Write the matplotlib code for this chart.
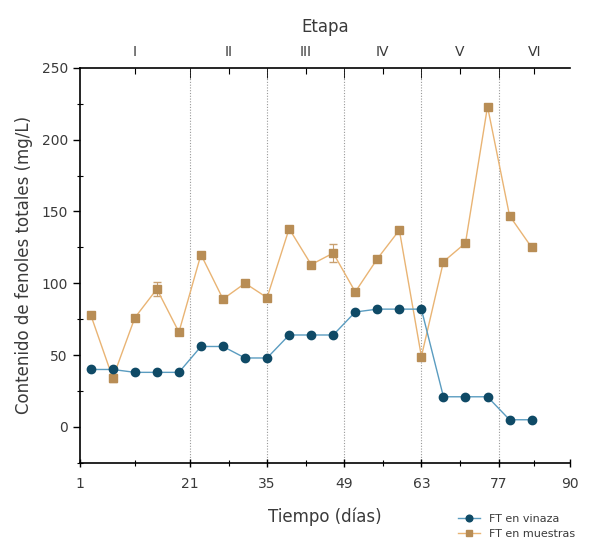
import numpy as np
import matplotlib
matplotlib.use("Agg")
import matplotlib.pyplot as plt

# data
dias = [3, 7, 11, 15, 19, 23, 27, 31, 35, 39, 43, 47, 51, 55, 59, 63, 67, 71, 75, 79, 83]
ft_vinaza = [40, 40, 38, 38, 38, 56, 56, 48, 48, 64, 64, 64, 80, 82, 82, 82, 21, 21, 21, 5, 5]
ft_muestras = [78, 34, 76, 96, 66, 120, 89, 100, 90, 138, 113, 121, 94, 117, 137, 49, 115, 128, 223, 147, 125]
err_muestras = [0, 3, 0, 5, 0, 0, 0, 0, 0, 0, 0, 6, 0, 0, 0, 0, 0, 0, 0, 0, 0]

limites = [21, 35, 49, 63, 77]
etapas = ["I", "II", "III", "IV", "V", "VI"]
centros = [11, 28, 42, 56, 70, 83.5]
xticks = [1, 21, 35, 49, 63, 77, 90]

txt = "#3a3a3a"
fig = plt.figure(figsize=(6.04, 5.42), dpi=100)
ax = fig.add_axes([0.132, 0.146, 0.812, 0.729])

for b in limites:
    ax.axvline(b, color="#999999", lw=0.8, ls=(0, (1, 1.5)), zorder=1)

ax.plot(dias, ft_vinaza, "-o", color="#5a9cc0", lw=1.0, ms=6,
        mfc="#0f4a66", mec="#0f4a66", label="FT en vinaza", zorder=4)
ax.errorbar(dias, ft_muestras, yerr=err_muestras, fmt="none", ecolor="#c9a070",
            elinewidth=0.8, capsize=3, zorder=2)
ax.plot(dias, ft_muestras, "-s", color="#e9b474", lw=1.0, ms=5.5,
        mfc="#b88d55", mec="#b88d55", label="FT en muestras", zorder=3)

ax.set_xlim(1, 90)
ax.set_ylim(-25, 250)
ax.set_xticks(xticks)
ax.set_xticks([11, 28, 42, 56, 70, 83.5], minor=True)
ax.set_yticks([0, 50, 100, 150, 200, 250])
ax.set_yticks([-25, 25, 75, 125, 175, 225], minor=True)
ax.tick_params(axis="both", which="major", direction="out", length=5, width=1,
               labelsize=10, labelcolor=txt)
ax.tick_params(axis="both", which="minor", direction="inout", length=4, width=0.8)
ax.tick_params(axis="x", which="major", direction="inout", length=6, pad=7)

for s in ["top", "right"]:
    ax.spines[s].set_visible(False)
for s in ["left", "bottom"]:
    ax.spines[s].set_linewidth(1.2)

ax.set_xlabel("Tiempo (días)", fontsize=12, color=txt, labelpad=12)
ax.set_ylabel("Contenido de fenoles totales (mg/L)", fontsize=12, color=txt, labelpad=6)

top = ax.twiny()
top.set_xlim(ax.get_xlim())
top.set_xticks(centros)
top.set_xticklabels(etapas)
top.set_xticks(limites, minor=True)
top.tick_params(axis="x", which="major", direction="in", length=4, labelsize=10,
                labelcolor=txt, pad=6)
top.tick_params(axis="x", which="minor", direction="in", length=7)
for s in ["left", "right", "bottom"]:
    top.spines[s].set_visible(False)
top.spines["top"].set_linewidth(1.2)
top.set_xlabel("Etapa", fontsize=12, color=txt, labelpad=10)

ax.legend(loc="upper left", bbox_to_anchor=(0.76, -0.115), frameon=False,
          fontsize=8, handlelength=2.0, labelspacing=0.45, borderpad=0,
          markerscale=0.8, labelcolor=txt)

fig.savefig("out.png", dpi=100)
